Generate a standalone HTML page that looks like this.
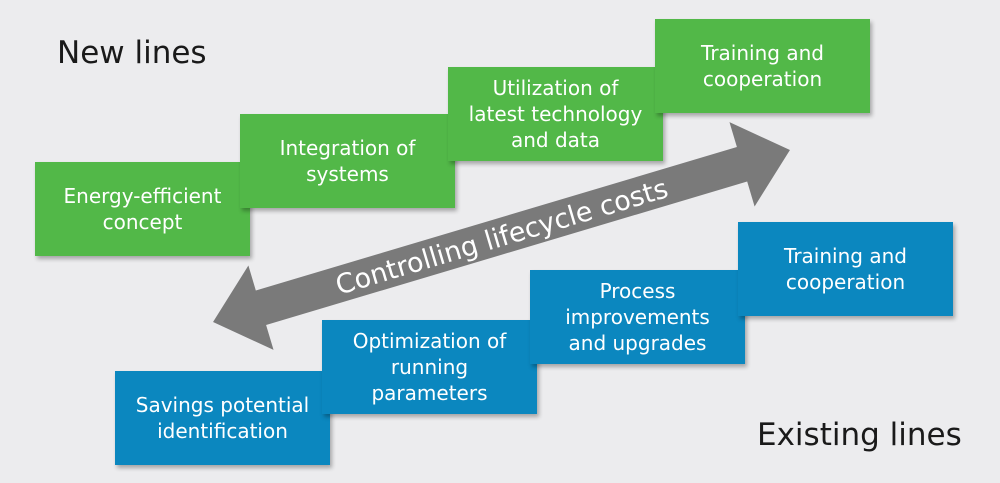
<!DOCTYPE html>
<html><head><meta charset="utf-8"><style>
body{margin:0;width:1000px;height:483px;background:#ececee;position:relative;overflow:hidden;font-family:"DejaVu Sans","Liberation Sans",sans-serif}
.b{position:absolute;width:215px;height:94px;color:#fff;font-size:20px;line-height:26px;display:flex;align-items:center;justify-content:center;text-align:center;box-shadow:2px 3px 4px rgba(0,0,0,.3)}
.g{background:#52b848}.u{background:#0b87bf}
.t{position:absolute;font-size:31px;color:#1a1a1a}
</style></head><body>
<div class="t" style="left:57px;top:35px">New lines</div>
<div class="t" style="left:757px;top:417px">Existing lines</div>
<div class="b g" style="left:35px;top:162px">Energy-efficient<br>concept</div>
<div class="b g" style="left:240px;top:114px">Integration of<br>systems</div>
<div class="b g" style="left:448px;top:67px">Utilization of<br>latest technology<br>and data</div>
<div class="b g" style="left:655px;top:19px">Training and<br>cooperation</div>
<svg width="1000" height="483" style="position:absolute;left:0;top:0">
<g transform="translate(501.5,236) rotate(-16.6)">
<polygon points="-301,0 -251,-44 -251,-18 251,-18 251,-44 301,0 251,44 251,18 -251,18 -251,44" fill="#7a7a7a"/>
<text x="0" y="10" fill="#fff" font-size="27" text-anchor="middle" font-family="DejaVu Sans, Liberation Sans, sans-serif">Controlling lifecycle costs</text>
</g></svg>
<div class="b u" style="left:115px;top:371px">Savings potential<br>identification</div>
<div class="b u" style="left:322px;top:320px">Optimization of<br>running<br>parameters</div>
<div class="b u" style="left:530px;top:270px">Process<br>improvements<br>and upgrades</div>
<div class="b u" style="left:738px;top:222px">Training and<br>cooperation</div>
</body></html>
